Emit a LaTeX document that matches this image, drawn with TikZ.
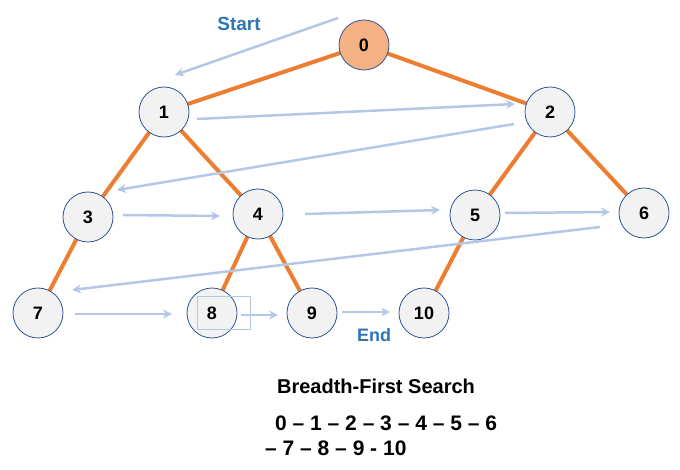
\documentclass[tikz,border=0pt]{standalone}
\usepackage{fontspec}
\setmainfont{Liberation Sans}
\usetikzlibrary{arrows.meta}
\definecolor{edgeor}{HTML}{ED7D31}
\definecolor{arrbl}{HTML}{B4C7E7}
\definecolor{nodebd}{HTML}{2F5597}
\definecolor{nodefill}{HTML}{F2F2F2}
\definecolor{rootfill}{HTML}{F4B183}
\definecolor{lblblue}{HTML}{2E75B6}
\tikzset{
  vtx/.style={circle, draw=nodebd, line width=0.8pt, fill=nodefill, minimum size=50pt, inner sep=0pt, font=\bfseries\fontsize{18}{21}\selectfont},
  tedge/.style={draw=edgeor, line width=4pt},
  visit/.style={draw=arrbl, line width=2.5pt, -{Stealth[length=9pt,width=9pt,inset=3pt]}},
  lbl/.style={text=lblblue, font=\bfseries\fontsize{19}{22}\selectfont},
  seq/.style={font=\bfseries\fontsize{21}{24}\selectfont, anchor=west, inner sep=0pt},
}
\begin{document}
\begin{tikzpicture}[x=1pt,y=-1pt]
\useasboundingbox (0,0) rectangle (680,470);
% tree edges
\coordinate (p0) at (364,45);
\coordinate (p1) at (164,112);
\coordinate (p2) at (550,112);
\coordinate (p3) at (88,217);
\coordinate (p4) at (258,214);
\coordinate (p5) at (475,215);
\coordinate (p6) at (644,213);
\coordinate (p7) at (38,313);
\coordinate (p8) at (212,313);
\coordinate (p9) at (312,313);
\coordinate (p10) at (424,313);
\draw[tedge] (p0) -- (p1);
\draw[tedge] (p0) -- (p2);
\draw[tedge] (p1) -- (p3);
\draw[tedge] (p1) -- (p4);
\draw[tedge] (p2) -- (p5);
\draw[tedge] (p2) -- (p6);
\draw[tedge] (p3) -- (p7);
\draw[tedge] (p4) -- (p8);
\draw[tedge] (p4) -- (p9);
\draw[tedge] (p5) -- (p10);
% nodes
\node[vtx, fill=rootfill] (n0) at (p0) {0};
\node[vtx] (n1) at (p1) {1};
\node[vtx] (n2) at (p2) {2};
\node[vtx] (n3) at (p3) {3};
\node[vtx] (n4) at (p4) {4};
\node[vtx] (n5) at (p5) {5};
\node[vtx] (n6) at (p6) {6};
\node[vtx] (n7) at (p7) {7};
\node[vtx] (n8) at (p8) {8};
\node[vtx] (n9) at (p9) {9};
\node[vtx] (n10) at (p10) {10};
% small box around 8
\node[draw=arrbl, line width=0.8pt, minimum width=53pt, minimum height=33pt, inner sep=0pt] (box8) at (224,313) {};
% traversal arrows
\coordinate (s0) at (338,18);   \coordinate (e0) at (175,75);
\coordinate (s1) at (197,119);  \coordinate (e1) at (515,104);
\coordinate (s2) at (514,124);  \coordinate (e2) at (117,190);
\coordinate (s3) at (123,215);  \coordinate (e3) at (220,216);
\coordinate (s4) at (305,214);  \coordinate (e4) at (440,210);
\coordinate (s5) at (505,213);  \coordinate (e5) at (610,212);
\coordinate (s6) at (600,227);  \coordinate (e6) at (72,290);
\coordinate (s7) at (75,314);   \coordinate (e7) at (172,314);
\coordinate (s8) at (241,315);  \coordinate (e8) at (278,315);
\coordinate (s9) at (342,312);  \coordinate (e9) at (390,312);
\draw[visit] (s0) -- (e0);
\draw[visit] (s1) -- (e1);
\draw[visit] (s2) -- (e2);
\draw[visit] (s3) -- (e3);
\draw[visit] (s4) -- (e4);
\draw[visit] (s5) -- (e5);
\draw[visit] (s6) -- (e6);
\draw[visit] (s7) -- (e7);
\draw[visit] (s8) -- (e8);
\draw[visit] (s9) -- (e9);
% labels
\node[lbl] (start) at (239,24) {Start};
\node[lbl, font=\bfseries\fontsize{18}{21}\selectfont] (end) at (374,335) {End};
\node[font=\bfseries\fontsize{20}{23}\selectfont] (title) at (376,386) {Breadth-First Search};
\node[seq] (seq1) at (275,423) {0 – 1 – 2 – 3 – 4 – 5 – 6};
\node[seq] (seq2) at (265,448) {– 7 – 8 – 9 - 10};
\end{tikzpicture}
\end{document}
